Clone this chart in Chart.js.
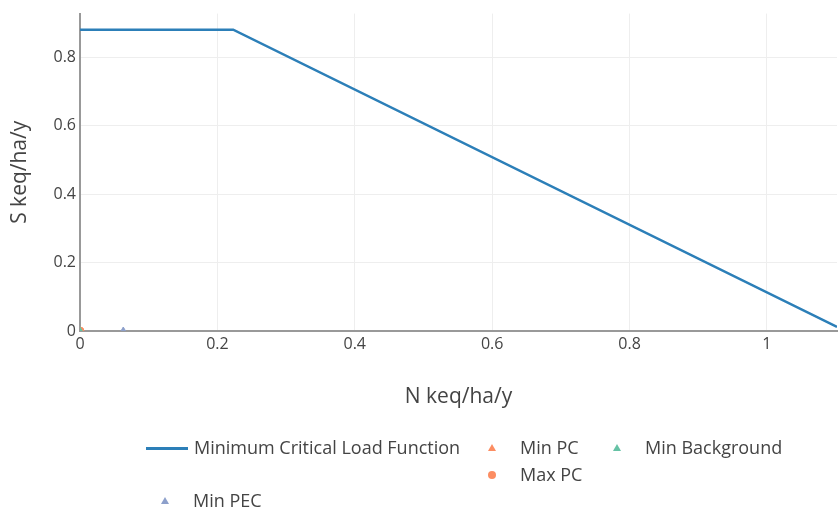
<!DOCTYPE html>
<html>
<head>
<meta charset="utf-8">
<script src="https://cdn.jsdelivr.net/npm/chart.js@4.4.1/dist/chart.umd.min.js"></script>
<style>
  body { margin: 0; background: #fff; font-family: "Open Sans", sans-serif; overflow: hidden; }
  #wrap { position: relative; width: 838px; height: 513px; overflow: hidden; }
  #legend { position: absolute; left: 0; top: 0; width: 838px; height: 513px; pointer-events: none; }
  .item { position: absolute; font-size: 18px; color: #444; line-height: 22px; white-space: nowrap; }
  .sym { position: absolute; }
</style>
</head>
<body>
<div id="wrap">
  <canvas id="myChart" width="842" height="513"></canvas>
  <div id="legend"></div>
</div>
<script>
// minimum critical load function
const lineN = [0, 0.223, 1.102];
const lineS = [0.881, 0.881, 0.012];

// points
const minPC = [{ x: 0, y: 0 }];
const maxPC = [{ x: 0, y: 0 }];
const minBackground = [{ x: 0, y: 0 }];
const minPEC = [{ x: 0.063, y: 0 }];

const xTicks = [0, 0.2, 0.4, 0.6, 0.8, 1];
const yTicks = [0, 0.2, 0.4, 0.6, 0.8];

const blue = '#2c7fb8';
const orange = '#fc8d62';
const green = '#66c2a5';
const purple = '#8da0cb';

const keepTicks = list => scale => {
  scale.ticks = list.map(v => ({ value: v }));
};

const ctx = document.getElementById('myChart').getContext('2d');
const myChart = new Chart(ctx, {
  type: 'scatter',
  data: {
    datasets: [{
      label: 'Minimum Critical Load Function',
      type: 'line',
      data: lineN.map((n, i) => ({ x: n, y: lineS[i] })),
      borderColor: blue,
      borderWidth: 2.5,
      pointRadius: 0,
      fill: false,
      order: 5
    }, {
      label: 'Min PEC',
      data: minPEC,
      pointStyle: 'triangle',
      pointRadius: 4,
      backgroundColor: purple,
      borderColor: purple
    }, {
      label: 'Min Background',
      data: minBackground,
      pointStyle: 'triangle',
      pointRadius: 4,
      backgroundColor: green,
      borderColor: green
    }, {
      label: 'Min PC',
      data: minPC,
      pointStyle: 'triangle',
      pointRadius: 4,
      backgroundColor: orange,
      borderColor: orange
    }, {
      label: 'Max PC',
      data: maxPC,
      pointStyle: 'circle',
      pointRadius: 4,
      backgroundColor: orange,
      borderColor: orange
    }]
  },
  options: {
    responsive: false,
    animation: false,
    layout: { padding: { left: 0, top: 12, right: 0, bottom: 100 } },
    plugins: {
      legend: { display: false },
      tooltip: { enabled: false }
    },
    scales: {
      x: {
        type: 'linear',
        min: 0,
        max: 1.102,
        afterBuildTicks: keepTicks(xTicks),
        afterFit: s => { s.height = 82; },
        grid: { color: '#eeeeee', lineWidth: 1, drawTicks: false },
        border: { color: '#999999', width: 2 },
        ticks: {
          color: '#444', font: { family: 'Open Sans', size: 16 }, padding: 4,
          callback: v => String(v)
        },
        title: {
          display: true,
          text: 'N keq/ha/y',
          color: '#444',
          font: { family: 'Open Sans', size: 21 },
          padding: { top: 0, bottom: 3 }
        }
      },
      y: {
        min: 0,
        max: 0.928,
        afterBuildTicks: keepTicks(yTicks),
        afterFit: s => { s.width = 80; },
        grid: { color: '#eeeeee', lineWidth: 1, drawTicks: false },
        border: { color: '#999999', width: 2 },
        ticks: {
          color: '#444', font: { family: 'Open Sans', size: 16 }, padding: 4,
          callback: v => String(v)
        },
        title: {
          display: true,
          text: 'S keq/ha/y',
          color: '#444',
          font: { family: 'Open Sans', size: 21 },
          padding: { top: 7, bottom: 0 }
        }
      }
    }
  }
});

// html legend, laid out like the original
const legendItems = [
  { text: 'Minimum Critical Load Function', kind: 'line', color: blue, x: 146, y: 448 },
  { text: 'Min PC', kind: 'triangle', color: orange, x: 492, y: 448 },
  { text: 'Min Background', kind: 'triangle', color: green, x: 617, y: 448 },
  { text: 'Max PC', kind: 'circle', color: orange, x: 492, y: 475 },
  { text: 'Min PEC', kind: 'triangle', color: purple, x: 165, y: 501 }
];
const legend = document.getElementById('legend');
legendItems.forEach(it => {
  const sym = document.createElement('div');
  sym.className = 'sym';
  let textX;
  if (it.kind === 'line') {
    Object.assign(sym.style, { left: it.x + 'px', top: (it.y - 1) + 'px', width: '42px', height: '3px', background: it.color });
    textX = it.x + 48;
  } else if (it.kind === 'triangle') {
    Object.assign(sym.style, {
      left: (it.x - 4) + 'px', top: (it.y - 4) + 'px', width: 0, height: 0,
      borderLeft: '4px solid transparent', borderRight: '4px solid transparent',
      borderBottom: '7px solid ' + it.color
    });
    textX = it.x + 28;
  } else {
    Object.assign(sym.style, {
      left: (it.x - 4) + 'px', top: (it.y - 4) + 'px', width: '8px', height: '8px',
      borderRadius: '50%', background: it.color
    });
    textX = it.x + 28;
  }
  legend.appendChild(sym);
  const lab = document.createElement('div');
  lab.className = 'item';
  lab.textContent = it.text;
  lab.style.left = textX + 'px';
  lab.style.top = (it.y - 12) + 'px';
  legend.appendChild(lab);
});
</script>
</body>
</html>
